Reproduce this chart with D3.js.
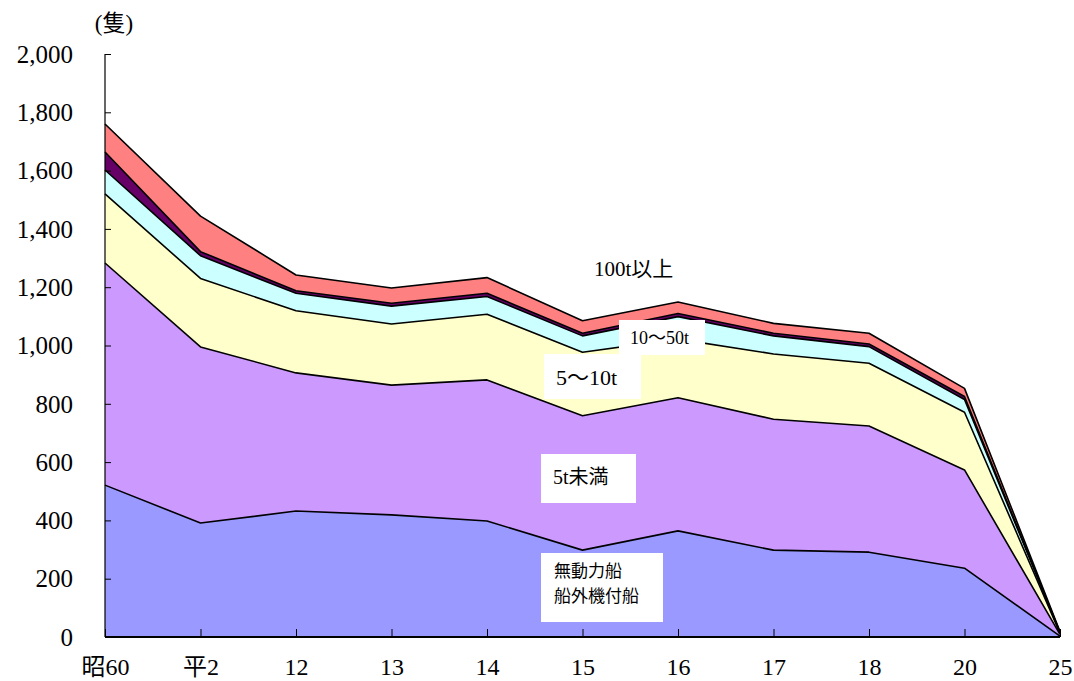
<!DOCTYPE html>
<html><head><meta charset="utf-8">
<script src="https://cdn.jsdelivr.net/npm/d3@7"></script>
<style>body{margin:0;background:#fff}svg{display:block}</style>
</head><body><svg id="c" width="1074" height="681"></svg>
<script>
const categories = ["昭60","平2","12","13","14","15","16","17","18","20","25"];
const mutorikisen = [521,391,432,419,398,298,364,298,291,236,3];
const under5t     = [762,604,474,445,484,461,457,449,433,337,6];
const t5to10      = [237,235,213,210,225,218,201,224,215,198,4];
const t10to50     = [82,78,60,61,61,56,77,62,57,44,2];
const t50to100    = [62,14,9,10,11,9,11,9,9,10,1];
const over100t    = [96,122,54,52,54,43,39,34,37,28,3];
const yTicks = [0,200,400,600,800,1000,1200,1400,1600,1800,2000];
const keys = ["mu","u5","t5","t10","t50","t100"];
const colors = {mu:"#9999FF",u5:"#CC99FF",t5:"#FFFFCC",t10:"#CCFFFF",t50:"#660066",t100:"#FF8080"};
const series = {mu:mutorikisen,u5:under5t,t5:t5to10,t10:t10to50,t50:t50to100,t100:over100t};
const rows = categories.map((c,i)=>{const r={cat:c};keys.forEach(k=>r[k]=series[k][i]);return r;});

const svg = d3.select("#c");
const x = d3.scalePoint().domain(categories).range([105,1060]);
const y = d3.scaleLinear().domain([0,2000]).range([637,54]);
const stacked = d3.stack().keys(keys)(rows);

const areaGen = d3.area().x(d=>x(d.data.cat)).y0(d=>y(d[0])).y1(d=>y(d[1]));
const topLine = d3.line().x(d=>x(d.data.cat)).y(d=>y(d[1]));
svg.append("g").selectAll("path").data(stacked).join("path")
  .attr("d",areaGen).attr("fill",d=>colors[d.key]);
svg.append("g").selectAll("path").data(stacked).join("path")
  .attr("d",topLine).attr("fill","none").attr("stroke","#000").attr("stroke-width",1.6).attr("stroke-linejoin","round");

const serif = "'Liberation Serif', 'Noto Sans CJK JP', serif";
// axes
const yAxis = d3.axisLeft(y).tickValues(yTicks).tickSize(-6).tickPadding(32).tickFormat(d3.format(","));
const gy = svg.append("g").attr("transform","translate(105,0)").call(yAxis);
gy.select(".domain").attr("stroke","#000").attr("stroke-width",1.2).attr("d","M0,54V637");
gy.selectAll(".tick line").attr("stroke","#000");
gy.selectAll("text").attr("font-family",serif).attr("font-size",25).attr("fill","#000").attr("dy","0.33em");

const xAxis = d3.axisBottom(x).tickSize(-8).tickPadding(38);
const gx = svg.append("g").attr("transform","translate(0,637)").call(xAxis);
gx.select(".domain").attr("stroke","#000").attr("stroke-width",2).attr("d","M105,0H1060");
gx.selectAll(".tick line").attr("stroke","#000");
gx.selectAll("text").attr("font-family",serif).attr("font-size",24).attr("fill","#000").attr("dy","0");

svg.append("text").attr("x",114).attr("y",31).attr("text-anchor","middle")
  .attr("font-family",serif).attr("font-size",23).attr("fill","#000").text("(隻)");

// labels
function box(x0,y0,w,h){svg.append("rect").attr("x",x0).attr("y",y0).attr("width",w).attr("height",h).attr("fill","#fff");}
svg.append("text").attr("x",594).attr("y",276).attr("font-family",serif).attr("font-size",21).attr("fill","#000").text("100t以上");
box(619,320,86,35);
svg.append("text").attr("x",630).attr("y",344).attr("font-family",serif).attr("font-size",18).attr("fill","#000").text("10～50t");
box(544,354,97,45);
svg.append("text").attr("x",556).attr("y",385).attr("font-family",serif).attr("font-size",22).attr("fill","#000").text("5～10t");
box(541,454,95,49);
svg.append("text").attr("x",553).attr("y",484).attr("font-family",serif).attr("font-size",20).attr("fill","#000").text("5t未満");
box(541,553,122,69);
const mt = svg.append("text").attr("font-family","'Noto Sans CJK JP', sans-serif").attr("font-size",17).attr("fill","#000");
mt.append("tspan").attr("x",554).attr("y",577).text("無動力船");
mt.append("tspan").attr("x",554).attr("dy",25).text("船外機付船");
</script></body></html>
